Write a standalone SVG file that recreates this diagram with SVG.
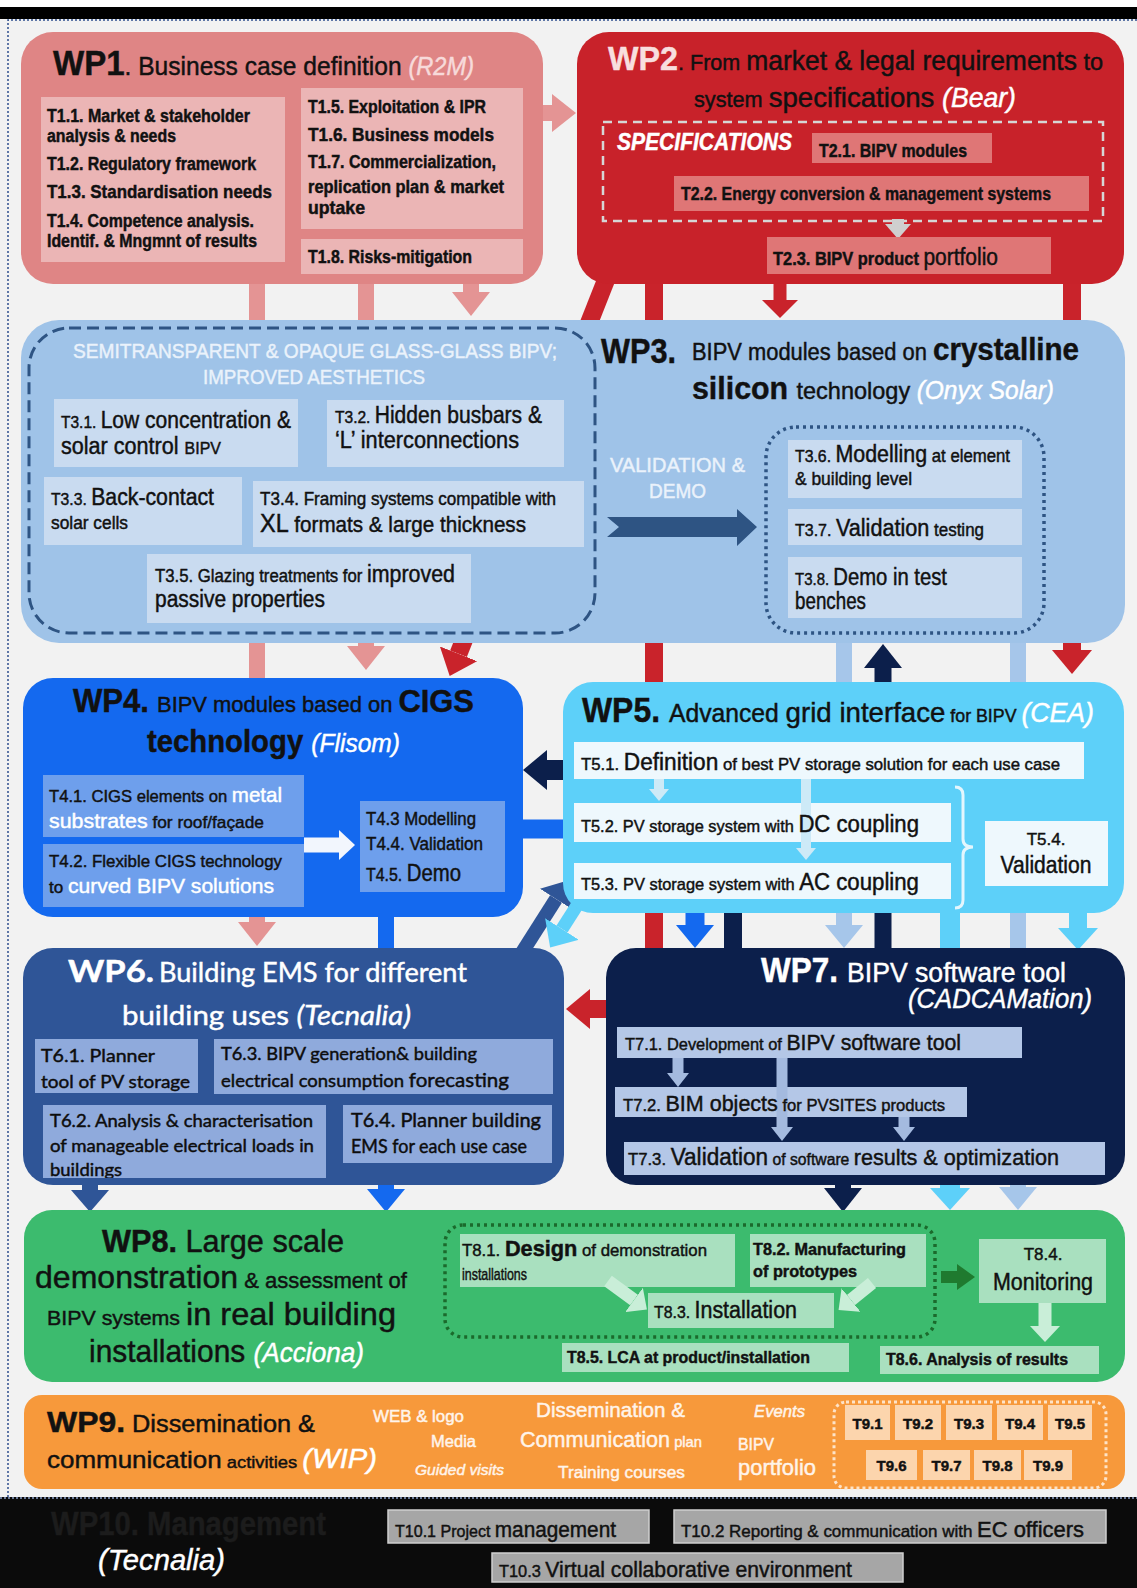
<svg xmlns="http://www.w3.org/2000/svg" width="1137" height="1588" viewBox="0 0 1137 1588">
<style>
text{font-family:"Liberation Sans Narrow","Liberation Sans",Arial,sans-serif;fill:#111;stroke:#111;stroke-width:.45}
.cal{font-family:Lato,"Open Sans",sans-serif}
.b{font-weight:bold}
.i{font-style:italic}
.w{fill:#fff;stroke:#fff}
.wp1{fill:#f7dada;stroke:#f7dada}
.wp2{fill:#f8dede;stroke:#f8dede}
.wl{fill:#eaf2fb;stroke:#eaf2fb}
.wo{fill:#fff4ea;stroke:#fff4ea}
.k{fill:#0d0d0d;stroke:#0d0d0d}
.t1{fill:#ebb5b5}
.t2{fill:#df7676}
.t3{fill:#c9dbf0}
.t4{fill:#6e9fec}
.t5{fill:#eef8fd}
.t6{fill:#8faadc}
.t7{fill:#b4c7e7}
.t8{fill:#a9e0bf}
.t9{fill:#fcd5ad}
.t10{fill:#a6a6a6;stroke:#cfcfcf;stroke-width:1.5}
.sh{fill:none;stroke-linecap:butt}
</style>
<defs>
<marker id="mPink" markerUnits="userSpaceOnUse" markerWidth="24" markerHeight="38" refX="0" refY="19" orient="auto"><path d="M0,0 L24,19 L0,38 z" fill="#e49494"/></marker>
<marker id="mRed" markerUnits="userSpaceOnUse" markerWidth="24" markerHeight="40" refX="0" refY="20" orient="auto"><path d="M0,0 L24,20 L0,40 z" fill="#c9232b"/></marker>
<marker id="mRed2" markerUnits="userSpaceOnUse" markerWidth="18" markerHeight="36" refX="0" refY="18" orient="auto"><path d="M0,0 L18,18 L0,36 z" fill="#c9232b"/></marker>
<marker id="mNavy" markerUnits="userSpaceOnUse" markerWidth="24" markerHeight="38" refX="0" refY="19" orient="auto"><path d="M0,0 L24,19 L0,38 z" fill="#0c1f4b"/></marker>
<marker id="mNavyL" markerUnits="userSpaceOnUse" markerWidth="24" markerHeight="40" refX="0" refY="20" orient="auto"><path d="M0,0 L24,20 L0,40 z" fill="#0c1f4b"/></marker>
<marker id="mBlue" markerUnits="userSpaceOnUse" markerWidth="23" markerHeight="38" refX="0" refY="19" orient="auto"><path d="M0,0 L23,19 L0,38 z" fill="#1469ef"/></marker>
<marker id="mLblue" markerUnits="userSpaceOnUse" markerWidth="23" markerHeight="38" refX="0" refY="19" orient="auto"><path d="M0,0 L23,19 L0,38 z" fill="#a6c6ea"/></marker>
<marker id="mCyan" markerUnits="userSpaceOnUse" markerWidth="22" markerHeight="40" refX="0" refY="20" orient="auto"><path d="M0,0 L22,20 L0,40 z" fill="#5dd0f9"/></marker>
<marker id="mDblue" markerUnits="userSpaceOnUse" markerWidth="22" markerHeight="38" refX="0" refY="19" orient="auto"><path d="M0,0 L22,19 L0,38 z" fill="#2f5597"/></marker>
<marker id="mGray" markerUnits="userSpaceOnUse" markerWidth="15" markerHeight="26" refX="0" refY="13" orient="auto"><path d="M0,0 L15,13 L0,26 z" fill="#cfcfcf"/></marker>
<marker id="mPaleG" markerUnits="userSpaceOnUse" markerWidth="16" markerHeight="30" refX="0" refY="15" orient="auto"><path d="M0,0 L16,15 L0,30 z" fill="#c9eed8"/></marker>
<marker id="mDgreen" markerUnits="userSpaceOnUse" markerWidth="18" markerHeight="26" refX="0" refY="13" orient="auto"><path d="M0,0 L18,13 L0,26 z" fill="#1f7a2f"/></marker>
<marker id="mWhite" markerUnits="userSpaceOnUse" markerWidth="16" markerHeight="30" refX="0" refY="15" orient="auto"><path d="M0,0 L16,15 L0,30 z" fill="#f2f6fd"/></marker>
<marker id="mPale5" markerUnits="userSpaceOnUse" markerWidth="12" markerHeight="20" refX="0" refY="10" orient="auto"><path d="M0,0 L12,10 L0,20 z" fill="#cdeaf7"/></marker>
<marker id="mPale7" markerUnits="userSpaceOnUse" markerWidth="14" markerHeight="22" refX="0" refY="11" orient="auto"><path d="M0,0 L14,11 L0,22 z" fill="#a4badf"/></marker>
<clipPath id="k53"><rect x="574" y="863" width="377" height="36"/></clipPath>
<clipPath id="k61"><rect x="35" y="1039" width="163" height="54"/></clipPath>
<clipPath id="k62"><rect x="43" y="1105" width="283" height="73"/></clipPath>
<clipPath id="k72"><rect x="615" y="1087" width="352" height="30"/></clipPath>
</defs>

<!-- page background and frame -->
<rect width="1137" height="1588" fill="#f2f2f2"/>
<rect y="0" width="1137" height="7" fill="#ffffff"/>
<rect y="7" width="1137" height="12" fill="#000"/>
<path d="M8,1497 V20 H1137" fill="none" stroke="#2f4f8f" stroke-width="1.5" stroke-dasharray="2 2"/>

<!-- connectors between work packages -->
<g id="connectors">
  <line class="sh" x1="540" y1="113" x2="552" y2="113" stroke="#e49494" stroke-width="16" marker-end="url(#mPink)"/>
  <line class="sh" x1="257" y1="283" x2="257" y2="922" stroke="#e49494" stroke-width="16" marker-end="url(#mPink)"/>
  <line class="sh" x1="366" y1="283" x2="366" y2="646" stroke="#e49494" stroke-width="16" marker-end="url(#mPink)"/>
  <line class="sh" x1="471" y1="283" x2="471" y2="292" stroke="#e49494" stroke-width="16" marker-end="url(#mPink)"/>
  <line class="sh" x1="606" y1="280" x2="458.5" y2="653.8" stroke="#c9232b" stroke-width="18" marker-end="url(#mRed)"/>
  <line class="sh" x1="654" y1="283" x2="654" y2="949" stroke="#c9232b" stroke-width="18"/>
  <line class="sh" x1="780" y1="283" x2="780" y2="300" stroke="#c9232b" stroke-width="13" marker-end="url(#mRed2)"/>
  <line class="sh" x1="1072" y1="283" x2="1072" y2="650" stroke="#c9232b" stroke-width="18" marker-end="url(#mRed)"/>
  <line class="sh" x1="612" y1="1009" x2="590" y2="1009" stroke="#c9232b" stroke-width="18" marker-end="url(#mRed)"/>
  <line class="sh" x1="883" y1="949" x2="883" y2="668" stroke="#0c1f4b" stroke-width="17" marker-end="url(#mNavy)"/>
  <line class="sh" x1="733" y1="900" x2="733" y2="950" stroke="#0c1f4b" stroke-width="18"/>
  <line class="sh" x1="570" y1="770" x2="547" y2="770" stroke="#0c1f4b" stroke-width="20" marker-end="url(#mNavyL)"/>
  <line class="sh" x1="843" y1="1180" x2="843" y2="1188" stroke="#0c1f4b" stroke-width="16" marker-end="url(#mNavy)"/>
  <path class="sh" d="M520,829 H695 V925" stroke="#1469ef" stroke-width="19" marker-end="url(#mBlue)"/>
  <line class="sh" x1="386" y1="914" x2="386" y2="1189" stroke="#1469ef" stroke-width="16" marker-end="url(#mBlue)"/>
  <line class="sh" x1="844" y1="640" x2="844" y2="925" stroke="#a6c6ea" stroke-width="16" marker-end="url(#mLblue)"/>
  <line class="sh" x1="1018" y1="640" x2="1018" y2="1187" stroke="#a6c6ea" stroke-width="16" marker-end="url(#mLblue)"/>
  <line class="sh" x1="950" y1="910" x2="950" y2="1188" stroke="#5dd0f9" stroke-width="20" marker-end="url(#mCyan)"/>
  <line class="sh" x1="1078" y1="910" x2="1078" y2="928" stroke="#5dd0f9" stroke-width="18" marker-end="url(#mCyan)"/>
  <line class="sh" x1="516" y1="962" x2="556" y2="899" stroke="#2f5597" stroke-width="14" marker-end="url(#mDblue)"/>
  <line class="sh" x1="585" y1="893" x2="562" y2="929" stroke="#5dd0f9" stroke-width="13" marker-end="url(#mCyan)"/>
  <line class="sh" x1="90" y1="1180" x2="90" y2="1190" stroke="#2f5597" stroke-width="16" marker-end="url(#mDblue)"/>
</g>

<g id="wp1">
  <rect x="21" y="32" width="522" height="252" rx="32" fill="#df8585"/>
  <text x="53" y="75" textLength="421" lengthAdjust="spacingAndGlyphs"><tspan class="b" font-size="35">WP1</tspan><tspan font-size="26">. Business case definition </tspan><tspan class="i wp1" font-size="25">(R2M)</tspan></text>
  <rect class="t1" x="41" y="97" width="244" height="165"/>
  <rect class="t1" x="301" y="88" width="222" height="141"/>
  <rect class="t1" x="301" y="239" width="222" height="35"/>
  <g class="b" font-size="18">
    <text x="47" y="122" textLength="203" lengthAdjust="spacingAndGlyphs">T1.1. Market &amp; stakeholder</text>
    <text x="47" y="142" textLength="129" lengthAdjust="spacingAndGlyphs">analysis &amp; needs</text>
    <text x="47" y="170" textLength="209" lengthAdjust="spacingAndGlyphs">T1.2. Regulatory framework</text>
    <text x="47" y="198" textLength="225" lengthAdjust="spacingAndGlyphs" font-size="19">T1.3. Standardisation needs</text>
    <text x="47" y="227" textLength="207" lengthAdjust="spacingAndGlyphs">T1.4. Competence analysis.</text>
    <text x="47" y="247" textLength="210" lengthAdjust="spacingAndGlyphs">Identif. &amp; Mngmnt of results</text>
    <text x="308" y="113" textLength="178" lengthAdjust="spacingAndGlyphs">T1.5. Exploitation &amp; IPR</text>
    <text x="308" y="141" textLength="186" lengthAdjust="spacingAndGlyphs" font-size="19">T1.6. Business models</text>
    <text x="308" y="168" textLength="188" lengthAdjust="spacingAndGlyphs">T1.7. Commercialization,</text>
    <text x="308" y="193" textLength="196" lengthAdjust="spacingAndGlyphs">replication plan &amp; market</text>
    <text x="308" y="214" textLength="57" lengthAdjust="spacingAndGlyphs">uptake</text>
    <text x="308" y="263" textLength="164" lengthAdjust="spacingAndGlyphs">T1.8. Risks-mitigation</text>
  </g>
</g>

<g id="wp2">
  <rect x="577" y="32" width="547" height="252" rx="32" fill="#c8222a"/>
  <text x="608" y="70" textLength="495" lengthAdjust="spacingAndGlyphs"><tspan class="b wp2" font-size="33">WP2</tspan><tspan font-size="22">. From </tspan><tspan font-size="27">market &amp; legal requirements</tspan><tspan font-size="24"> to</tspan></text>
  <text x="694" y="107" textLength="322" lengthAdjust="spacingAndGlyphs"><tspan font-size="22">system </tspan><tspan font-size="28">specifications </tspan><tspan class="i w" font-size="27">(Bear)</tspan></text>
  <rect x="603" y="122" width="500" height="99" fill="none" stroke="#d6d6d6" stroke-width="2.5" stroke-dasharray="9 6"/>
  <text x="617" y="150" textLength="175" lengthAdjust="spacingAndGlyphs" class="b i w" font-size="23">SPECIFICATIONS</text>
  <rect class="t2" x="812" y="133" width="180" height="30"/>
  <rect class="t2" x="674" y="176" width="415" height="35"/>
  <line class="sh" x1="898" y1="219" x2="898" y2="224" stroke="#cfcfcf" stroke-width="12" marker-end="url(#mGray)"/>
  <rect class="t2" x="767" y="237" width="284" height="37"/>
  <g class="b" font-size="18">
    <text x="819" y="157" textLength="148" lengthAdjust="spacingAndGlyphs">T2.1. BIPV modules</text>
    <text x="681" y="200" textLength="370" lengthAdjust="spacingAndGlyphs">T2.2. Energy conversion &amp; management systems</text>
    <text x="773" y="265" textLength="225" lengthAdjust="spacingAndGlyphs">T2.3. BIPV product <tspan font-size="23" font-weight="normal">portfolio</tspan></text>
  </g>
</g>

<g id="wp3">
  <rect x="21" y="320" width="1104" height="323" rx="38" fill="#9fc3e8"/>
  <rect x="29" y="328" width="566" height="305" rx="40" fill="none" stroke="#2e5483" stroke-width="3" stroke-dasharray="12 6"/>
  <text x="73" y="358" textLength="484" lengthAdjust="spacingAndGlyphs" class="wl" font-size="20">SEMITRANSPARENT &amp; OPAQUE GLASS-GLASS BIPV;</text>
  <text x="203" y="384" textLength="222" lengthAdjust="spacingAndGlyphs" class="wl" font-size="20">IMPROVED AESTHETICS</text>
  <rect class="t3" x="54" y="399" width="244" height="68"/>
  <rect class="t3" x="327" y="400" width="237" height="67"/>
  <rect class="t3" x="44" y="477" width="198" height="68"/>
  <rect class="t3" x="253" y="481" width="331" height="66"/>
  <rect class="t3" x="147" y="554" width="324" height="69"/>
  <text x="61" y="428" textLength="230" lengthAdjust="spacingAndGlyphs"><tspan font-size="17">T3.1. </tspan><tspan font-size="23">Low concentration &amp;</tspan></text>
  <text x="61" y="454" textLength="160" lengthAdjust="spacingAndGlyphs"><tspan font-size="23">solar control </tspan><tspan font-size="17">BIPV</tspan></text>
  <text x="335" y="423" textLength="207" lengthAdjust="spacingAndGlyphs"><tspan font-size="17">T3.2. </tspan><tspan font-size="23">Hidden busbars &amp;</tspan></text>
  <text x="335" y="448" textLength="184" lengthAdjust="spacingAndGlyphs" font-size="23">‘L’ interconnections</text>
  <text x="51" y="505" textLength="163" lengthAdjust="spacingAndGlyphs"><tspan font-size="17">T3.3. </tspan><tspan font-size="23">Back-contact</tspan></text>
  <text x="51" y="529" textLength="77" lengthAdjust="spacingAndGlyphs" font-size="18">solar cells</text>
  <text x="260" y="505" textLength="296" lengthAdjust="spacingAndGlyphs" font-size="18">T3.4. Framing systems compatible with</text>
  <text x="260" y="532" textLength="266" lengthAdjust="spacingAndGlyphs"><tspan font-size="25">XL </tspan><tspan font-size="22">formats &amp; large thickness</tspan></text>
  <text x="155" y="582" textLength="300" lengthAdjust="spacingAndGlyphs"><tspan font-size="18">T3.5. Glazing treatments for </tspan><tspan font-size="23">improved</tspan></text>
  <text x="155" y="607" textLength="170" lengthAdjust="spacingAndGlyphs" font-size="23">passive properties</text>
  <text x="601" y="363" textLength="75" lengthAdjust="spacingAndGlyphs" class="b" font-size="35">WP3.</text>
  <text x="692" y="360" textLength="387" lengthAdjust="spacingAndGlyphs"><tspan font-size="23">BIPV modules based on </tspan><tspan class="b" font-size="31">crystalline</tspan></text>
  <text x="692" y="399" textLength="362" lengthAdjust="spacingAndGlyphs"><tspan class="b" font-size="31">silicon </tspan><tspan font-size="24">technology </tspan><tspan class="i w" font-size="25">(Onyx Solar)</tspan></text>
  <text x="610" y="472" textLength="135" lengthAdjust="spacingAndGlyphs" class="wl" font-size="21">VALIDATION &amp;</text>
  <text x="649" y="498" textLength="57" lengthAdjust="spacingAndGlyphs" class="wl" font-size="21">DEMO</text>
  <path d="M607,517 H737 V509 L757,527 L737,546 V537 H607 L619,527 Z" fill="#2e5483"/>
  <rect x="766" y="427" width="278" height="206" rx="30" fill="none" stroke="#2e5483" stroke-width="3.5" stroke-dasharray="3 4"/>
  <rect class="t3" x="788" y="440" width="234" height="58"/>
  <rect class="t3" x="788" y="509" width="234" height="36"/>
  <rect class="t3" x="788" y="557" width="234" height="61"/>
  <text x="795" y="462" textLength="215" lengthAdjust="spacingAndGlyphs"><tspan font-size="17">T3.6. </tspan><tspan font-size="23">Modelling</tspan><tspan font-size="18"> at element</tspan></text>
  <text x="795" y="485" textLength="117" lengthAdjust="spacingAndGlyphs" font-size="18">&amp; building level</text>
  <text x="795" y="536" textLength="189" lengthAdjust="spacingAndGlyphs"><tspan font-size="17">T3.7. </tspan><tspan font-size="23">Validation</tspan><tspan font-size="18"> testing</tspan></text>
  <text x="795" y="585" textLength="152" lengthAdjust="spacingAndGlyphs"><tspan font-size="17">T3.8. </tspan><tspan font-size="23">Demo in test</tspan></text>
  <text x="795" y="609" textLength="71" lengthAdjust="spacingAndGlyphs" font-size="23">benches</text>
</g>

<g id="wp4">
  <rect x="23" y="678" width="500" height="239" rx="30" fill="#1469ef"/>
  <text x="73" y="712" textLength="76" lengthAdjust="spacingAndGlyphs" class="b" font-size="33">WP4.</text>
  <text x="157" y="712" textLength="317" lengthAdjust="spacingAndGlyphs"><tspan font-size="22">BIPV modules based on </tspan><tspan class="b" font-size="31">CIGS</tspan></text>
  <text x="147" y="752" textLength="253" lengthAdjust="spacingAndGlyphs"><tspan class="b" font-size="31">technology </tspan><tspan class="i w" font-size="26">(Flisom)</tspan></text>
  <rect class="t4" x="43" y="775" width="261" height="62"/>
  <rect class="t4" x="43" y="844" width="261" height="63"/>
  <line class="sh" x1="304" y1="845" x2="339" y2="845" stroke="#f2f6fd" stroke-width="15" marker-end="url(#mWhite)"/>
  <rect class="t4" x="360" y="801" width="145" height="91"/>
  <text x="49" y="802" textLength="233" lengthAdjust="spacingAndGlyphs"><tspan font-size="17">T4.1. CIGS elements on </tspan><tspan class="w" font-size="21">metal</tspan></text>
  <text x="49" y="828" textLength="215" lengthAdjust="spacingAndGlyphs"><tspan class="w" font-size="21">substrates</tspan><tspan font-size="17"> for roof/façade</tspan></text>
  <text x="49" y="867" textLength="233" lengthAdjust="spacingAndGlyphs" font-size="17">T4.2. Flexible CIGS technology</text>
  <text x="49" y="893" textLength="225" lengthAdjust="spacingAndGlyphs"><tspan font-size="17">to </tspan><tspan class="w" font-size="21">curved BIPV solutions</tspan></text>
  <text x="366" y="825" textLength="110" lengthAdjust="spacingAndGlyphs" font-size="18">T4.3 Modelling</text>
  <text x="366" y="850" textLength="117" lengthAdjust="spacingAndGlyphs" font-size="18">T4.4. Validation</text>
  <text x="366" y="881" textLength="95" lengthAdjust="spacingAndGlyphs"><tspan font-size="18">T4.5. </tspan><tspan font-size="23">Demo</tspan></text>
</g>

<g id="wp5">
  <rect x="563" y="682" width="561" height="231" rx="30" fill="#5dd0f9"/>
  <text x="582" y="722" textLength="78" lengthAdjust="spacingAndGlyphs" class="b" font-size="35">WP5.</text>
  <text x="669" y="722" textLength="425" lengthAdjust="spacingAndGlyphs"><tspan font-size="25">Advanced </tspan><tspan font-size="28">grid interface</tspan><tspan font-size="18"> for BIPV </tspan><tspan class="i w" font-size="27">(CEA)</tspan></text>
  <rect class="t5" x="574" y="742" width="510" height="37"/>
  <rect class="t5" x="574" y="803" width="377" height="39"/>
  <rect class="t5" x="574" y="863" width="377" height="36"/>
  <line class="sh" x1="659" y1="779" x2="659" y2="789" stroke="#cdeaf7" stroke-width="10" marker-end="url(#mPale5)"/>
  <line class="sh" x1="806" y1="779" x2="806" y2="848" stroke="#cdeaf7" stroke-width="10" marker-end="url(#mPale5)"/>
  <path d="M955,787 q8,0 8,8 V839 q0,8 10,8 q-10,0 -10,8 V900 q0,8 -8,8" fill="none" stroke="#e4f6fd" stroke-width="3"/>
  <rect class="t5" x="985" y="821" width="123" height="65"/>
  <text x="581" y="770" textLength="479" lengthAdjust="spacingAndGlyphs"><tspan font-size="17">T5.1. </tspan><tspan font-size="23">Definition</tspan><tspan font-size="17"> of best PV storage solution for each use case</tspan></text>
  <text x="581" y="832" textLength="338" lengthAdjust="spacingAndGlyphs"><tspan font-size="17">T5.2. PV storage system with </tspan><tspan font-size="23">DC coupling</tspan></text>
  <text x="581" y="890" textLength="338" lengthAdjust="spacingAndGlyphs" clip-path="url(#k53)"><tspan font-size="17">T5.3. PV storage system with </tspan><tspan font-size="23">AC coupling</tspan></text>
  <text x="1046" y="845" text-anchor="middle" font-size="17">T5.4.</text>
  <text x="1046" y="873" text-anchor="middle" textLength="91" lengthAdjust="spacingAndGlyphs" font-size="23">Validation</text>
</g>

<g id="wp6">
  <rect x="23" y="948" width="541" height="237" rx="30" fill="#2f5597"/>
  <text x="68" y="982" textLength="86" lengthAdjust="spacingAndGlyphs" class="cal b w" font-size="31">WP6.</text>
  <text x="159" y="982" textLength="308" lengthAdjust="spacingAndGlyphs" class="cal w" font-size="26">Building EMS for different</text>
  <text x="122" y="1025" textLength="289" lengthAdjust="spacingAndGlyphs" class="cal w" font-size="27">building uses <tspan class="i">(Tecnalia)</tspan></text>
  <rect class="t6" x="35" y="1039" width="163" height="54"/>
  <rect class="t6" x="214" y="1039" width="339" height="55"/>
  <rect class="t6" x="43" y="1105" width="283" height="73"/>
  <rect class="t6" x="343" y="1105" width="209" height="58"/>
  <g class="cal k" font-size="18">
    <text class="cal k" x="41" y="1062" textLength="114" lengthAdjust="spacingAndGlyphs">T6.1. Planner</text>
    <text class="cal k" x="41" y="1088" textLength="149" lengthAdjust="spacingAndGlyphs" clip-path="url(#k61)">tool of PV storage</text>
    <text class="cal k" x="221" y="1060" textLength="256" lengthAdjust="spacingAndGlyphs">T6.3. BIPV generation&amp; building</text>
    <text class="cal k" x="221" y="1087" textLength="288" lengthAdjust="spacingAndGlyphs">electrical consumption <tspan font-size="20">forecasting</tspan></text>
    <text class="cal k" x="50" y="1127" textLength="263" lengthAdjust="spacingAndGlyphs">T6.2. Analysis &amp; characterisation</text>
    <text class="cal k" x="50" y="1152" textLength="264" lengthAdjust="spacingAndGlyphs">of manageable electrical loads in</text>
    <text class="cal k" x="50" y="1176" textLength="72" lengthAdjust="spacingAndGlyphs" clip-path="url(#k62)">buildings</text>
    <text class="cal k" x="351" y="1127" textLength="190" lengthAdjust="spacingAndGlyphs" font-size="19">T6.4. Planner building</text>
    <text class="cal k" x="351" y="1153" textLength="176" lengthAdjust="spacingAndGlyphs" font-size="19">EMS for each use case</text>
  </g>
</g>

<g id="wp7">
  <rect x="606" y="948" width="519" height="237" rx="30" fill="#0c1f4b"/>
  <text x="761" y="982" textLength="77" lengthAdjust="spacingAndGlyphs" class="b w" font-size="35">WP7.</text>
  <text x="847" y="982" textLength="219" lengthAdjust="spacingAndGlyphs" class="w" font-size="27">BIPV software tool</text>
  <text x="908" y="1008" textLength="184" lengthAdjust="spacingAndGlyphs" class="i w" font-size="28">(CADCAMation)</text>
  <rect class="t7" x="617" y="1027" width="405" height="31"/>
  <rect class="t7" x="615" y="1087" width="352" height="30"/>
  <rect class="t7" x="624" y="1142" width="481" height="33"/>
  <line class="sh" x1="678" y1="1058" x2="678" y2="1073" stroke="#a4badf" stroke-width="11" marker-end="url(#mPale7)"/>
  <line class="sh" x1="782" y1="1058" x2="782" y2="1127" stroke="#a4badf" stroke-width="11" marker-end="url(#mPale7)"/>
  <line class="sh" x1="904" y1="1117" x2="904" y2="1127" stroke="#a4badf" stroke-width="11" marker-end="url(#mPale7)"/>
  <text x="625" y="1050" textLength="336" lengthAdjust="spacingAndGlyphs"><tspan font-size="17">T7.1. Development of </tspan><tspan font-size="22">BIPV software tool</tspan></text>
  <text x="623" y="1111" textLength="322" lengthAdjust="spacingAndGlyphs" clip-path="url(#k72)"><tspan font-size="17">T7.2. </tspan><tspan font-size="22">BIM objects</tspan><tspan font-size="17"> for PVSITES products</tspan></text>
  <text x="628" y="1165" textLength="431" lengthAdjust="spacingAndGlyphs"><tspan font-size="17">T7.3. </tspan><tspan font-size="23">Validation</tspan><tspan font-size="16"> of software </tspan><tspan font-size="22">results &amp; optimization</tspan></text>
</g>

<g id="wp8">
  <rect x="24" y="1210" width="1101" height="172" rx="28" fill="#3cbb6e"/>
  <text x="102" y="1252" textLength="242" lengthAdjust="spacingAndGlyphs" class="b" font-size="31">WP8.<tspan font-weight="normal"> Large scale</tspan></text>
  <text x="35" y="1288" textLength="372" lengthAdjust="spacingAndGlyphs"><tspan font-size="32">demonstration</tspan><tspan font-size="22"> &amp; assessment of</tspan></text>
  <text x="47" y="1325" textLength="349" lengthAdjust="spacingAndGlyphs"><tspan font-size="21">BIPV systems </tspan><tspan font-size="32">in real building</tspan></text>
  <text x="89" y="1362" textLength="275" lengthAdjust="spacingAndGlyphs"><tspan font-size="32">installations </tspan><tspan class="i w" font-size="28">(Acciona)</tspan></text>
  <rect x="445" y="1225" width="490" height="112" rx="18" fill="none" stroke="#1b6a2c" stroke-width="3.5" stroke-dasharray="3 4"/>
  <rect class="t8" x="460" y="1234" width="275" height="53"/>
  <rect class="t8" x="750" y="1234" width="176" height="53"/>
  <rect class="t8" x="648" y="1293" width="186" height="35"/>
  <line class="sh" x1="608" y1="1281" x2="634" y2="1300" stroke="#c9eed8" stroke-width="13" marker-end="url(#mPaleG)"/>
  <line class="sh" x1="872" y1="1283" x2="851" y2="1300" stroke="#c9eed8" stroke-width="13" marker-end="url(#mPaleG)"/>
  <line class="sh" x1="941" y1="1277" x2="957" y2="1277" stroke="#1f7a2f" stroke-width="12" marker-end="url(#mDgreen)"/>
  <rect class="t8" x="979" y="1239" width="127" height="64"/>
  <line class="sh" x1="1045" y1="1303" x2="1045" y2="1326" stroke="#c9eed8" stroke-width="13" marker-end="url(#mPaleG)"/>
  <rect class="t8" x="562" y="1343" width="287" height="29"/>
  <rect class="t8" x="880" y="1346" width="219" height="28"/>
  <text x="462" y="1256" textLength="245" lengthAdjust="spacingAndGlyphs"><tspan font-size="17">T8.1. </tspan><tspan class="b" font-size="22">Design</tspan><tspan font-size="17"> of demonstration</tspan></text>
  <text x="462" y="1280" textLength="65" lengthAdjust="spacingAndGlyphs" font-size="17">installations</text>
  <text x="753" y="1255" textLength="153" lengthAdjust="spacingAndGlyphs" class="b" font-size="17">T8.2. Manufacturing</text>
  <text x="753" y="1277" textLength="104" lengthAdjust="spacingAndGlyphs" class="b" font-size="17">of prototypes</text>
  <text x="654" y="1318" textLength="143" lengthAdjust="spacingAndGlyphs"><tspan font-size="17">T8.3. </tspan><tspan font-size="23">Installation</tspan></text>
  <text x="1043" y="1260" text-anchor="middle" font-size="17">T8.4.</text>
  <text x="1043" y="1290" text-anchor="middle" textLength="100" lengthAdjust="spacingAndGlyphs" font-size="23">Monitoring</text>
  <text x="567" y="1363" textLength="243" lengthAdjust="spacingAndGlyphs" class="b" font-size="17">T8.5. LCA at product/installation</text>
  <text x="886" y="1365" textLength="182" lengthAdjust="spacingAndGlyphs" class="b" font-size="17">T8.6. Analysis of results</text>
</g>

<g id="wp9">
  <rect x="24" y="1395" width="1101" height="94" rx="18" fill="#f7993b"/>
  <text x="47" y="1432" textLength="268" lengthAdjust="spacingAndGlyphs"><tspan class="b" font-size="29">WP9.</tspan><tspan font-size="23"> Dissemination &amp;</tspan></text>
  <text x="47" y="1468" textLength="330" lengthAdjust="spacingAndGlyphs"><tspan font-size="24">communication</tspan><tspan font-size="17"> activities </tspan><tspan class="i w" font-size="27">(WIP)</tspan></text>
  <g class="wo">
    <text class="wo" x="373" y="1422" textLength="91" lengthAdjust="spacingAndGlyphs" font-size="16">WEB &amp; logo</text>
    <text class="wo" x="431" y="1447" textLength="45" lengthAdjust="spacingAndGlyphs" font-size="16">Media</text>
    <text class="wo i" x="415" y="1475" textLength="89" lengthAdjust="spacingAndGlyphs" font-size="15">Guided visits</text>
    <text class="wo" x="536" y="1417" textLength="149" lengthAdjust="spacingAndGlyphs" font-size="20">Dissemination &amp;</text>
    <text class="wo" x="520" y="1447" textLength="182" lengthAdjust="spacingAndGlyphs"><tspan font-size="22">Communication</tspan><tspan font-size="15"> plan</tspan></text>
    <text class="wo" x="558" y="1478" textLength="127" lengthAdjust="spacingAndGlyphs" font-size="17">Training courses</text>
    <text class="wo i" x="754" y="1417" textLength="51" lengthAdjust="spacingAndGlyphs" font-size="16">Events</text>
    <text class="wo" x="738" y="1450" textLength="36" lengthAdjust="spacingAndGlyphs" font-size="16">BIPV</text>
    <text class="wo" x="738" y="1475" textLength="78" lengthAdjust="spacingAndGlyphs" font-size="22">portfolio</text>
  </g>
  <rect x="834" y="1402" width="272" height="86" rx="12" fill="none" stroke="#fde3c8" stroke-width="3" stroke-dasharray="3 3"/>
  <g class="t9">
    <rect x="845" y="1405" width="45" height="35"/><rect x="895" y="1405" width="46" height="35"/><rect x="946" y="1405" width="46" height="35"/><rect x="997" y="1405" width="46" height="35"/><rect x="1048" y="1405" width="44" height="35"/>
    <rect x="866" y="1450" width="51" height="30"/><rect x="923" y="1450" width="47" height="30"/><rect x="974" y="1450" width="47" height="30"/><rect x="1024" y="1450" width="48" height="30"/>
  </g>
  <g class="b" font-size="15" text-anchor="middle">
    <text x="867.5" y="1429">T9.1</text><text x="918" y="1429">T9.2</text><text x="969" y="1429">T9.3</text><text x="1020" y="1429">T9.4</text><text x="1070" y="1429">T9.5</text>
    <text x="891.5" y="1471">T9.6</text><text x="946.5" y="1471">T9.7</text><text x="997.5" y="1471">T9.8</text><text x="1048" y="1471">T9.9</text>
  </g>
</g>

<g id="wp10">
  <rect x="0" y="1497" width="1137" height="91" fill="#0b0b0b"/>
  <line x1="0" y1="1498" x2="1137" y2="1498" stroke="#6b7a99" stroke-width="2" stroke-dasharray="2 2"/>
  <text x="51" y="1535" textLength="275" lengthAdjust="spacingAndGlyphs" class="b" font-size="33" style="fill:#1c1c1c;stroke:#1c1c1c">WP10. Management</text>
  <text x="98" y="1570" textLength="127" lengthAdjust="spacingAndGlyphs" class="i w" font-size="30">(Tecnalia)</text>
  <rect class="t10" x="388" y="1510" width="261" height="33"/>
  <rect class="t10" x="674" y="1510" width="432" height="33"/>
  <rect class="t10" x="492" y="1553" width="411" height="29"/>
  <text x="395" y="1537" textLength="221" lengthAdjust="spacingAndGlyphs"><tspan font-size="17">T10.1 Project </tspan><tspan font-size="22">management</tspan></text>
  <text x="681" y="1537" textLength="403" lengthAdjust="spacingAndGlyphs"><tspan font-size="17">T10.2 Reporting &amp; communication with </tspan><tspan font-size="22">EC officers</tspan></text>
  <text x="499" y="1577" textLength="353" lengthAdjust="spacingAndGlyphs"><tspan font-size="17">T10.3 </tspan><tspan font-size="22">Virtual collaborative environment</tspan></text>
</g>
</svg>
